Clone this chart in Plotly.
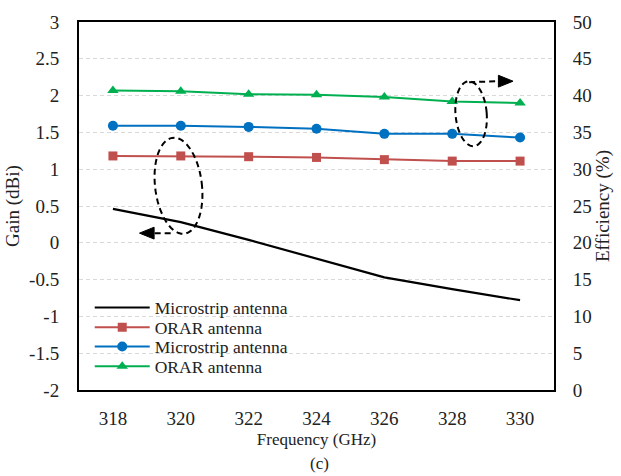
import numpy as np
import plotly.graph_objects as go

# Frequency sweep (GHz)
freq = [318, 320, 322, 324, 326, 328, 330]

# Gain (dBi)
gain_microstrip = [0.46, 0.28, 0.04, -0.22, -0.47, -0.63, -0.78]
gain_orar = [1.18, 1.18, 1.17, 1.16, 1.13, 1.11, 1.11]

# Radiation efficiency (%)
eff_microstrip = [35.9, 35.9, 35.75, 35.5, 34.8, 34.8, 34.3]
eff_orar = [40.7, 40.6, 40.2, 40.1, 39.8, 39.2, 39.0]

# Axis ticks
x_ticks = [318, 320, 322, 324, 326, 328, 330]
gain_ticks = [-2, -1.5, -1, -0.5, 0, 0.5, 1, 1.5, 2, 2.5, 3]
gain_tick_text = ["-2", "-1.5", "-1", "-0.5", "0", "0.5", "1", "1.5", "2", "2.5", "3"]
eff_ticks = [0, 5, 10, 15, 20, 25, 30, 35, 40, 45, 50]

FONT = "Liberation Serif"
TXT = "#222222"
RED = "#C0504D"
BLUE = "#0070C0"
GREEN = "#00B050"

W, H = 621, 476
ML, MR, MT, MB = 74, 60, 17, 86
PW, PH = W - ML - MR, H - MT - MB


def to_paper(px, py):
    return (px - ML) / PW, (H - MB - py) / PH


def ellipse_path(cx, cy, a, b, tilt_deg, n=60):
    t = np.linspace(0, 2 * np.pi, n)
    th = np.radians(tilt_deg)
    pts = []
    for x, y in zip(a * np.cos(t), b * np.sin(t)):
        rx = cx + x * np.cos(th) - y * np.sin(th)
        ry = cy + x * np.sin(th) + y * np.cos(th)
        pts.append(to_paper(rx, ry))
    return "M " + " L ".join(f"{p[0]:.5f},{p[1]:.5f}" for p in pts) + " Z"


def poly_path(points):
    pts = [to_paper(x, y) for x, y in points]
    return "M " + " L ".join(f"{p[0]:.5f},{p[1]:.5f}" for p in pts) + " Z"


def font(size):
    return dict(family=FONT, size=size, color=TXT)


fig = go.Figure()

fig.add_trace(go.Scatter(
    x=freq, y=gain_microstrip, name="Microstrip antenna", mode="lines", legend="legend",
    line=dict(color="black", width=2.2)))
fig.add_trace(go.Scatter(
    x=freq, y=gain_orar, name="ORAR antenna", mode="lines+markers", legend="legend2",
    line=dict(color=RED, width=2), marker=dict(symbol="square", size=9, color=RED)))
fig.add_trace(go.Scatter(
    x=freq, y=eff_microstrip, name="Microstrip antenna", mode="lines+markers", yaxis="y2",
    legend="legend3",
    line=dict(color=BLUE, width=2), marker=dict(symbol="circle", size=10, color=BLUE)))
fig.add_trace(go.Scatter(
    x=freq, y=eff_orar, name="ORAR antenna", mode="lines+markers", yaxis="y2",
    legend="legend4",
    line=dict(color=GREEN, width=2), marker=dict(symbol="triangle-up", size=10, color=GREEN)))

shapes = []
# White panel behind the legend entries (hides the grid there)
bx0, by0 = to_paper(83, 380)
bx1, by1 = to_paper(334, 288)
shapes.append(dict(type="rect", xref="paper", yref="paper", layer="between",
                   x0=bx0, y0=by0, x1=bx1, y1=by1, fillcolor="white", line=dict(width=0)))

dash_line = dict(color="black", width=2, dash="6px,4px")
# Left ellipse with arrow pointing to the gain axis
shapes.append(dict(type="path", xref="paper", yref="paper",
                   path=ellipse_path(176, 183, 24, 49, -7), line=dash_line))
lx0, ly0 = to_paper(168, 231)
lx1, ly1 = to_paper(150, 231)
shapes.append(dict(type="line", xref="paper", yref="paper",
                   x0=lx0, y0=ly0, x1=lx1, y1=ly1, line=dash_line))
shapes.append(dict(type="path", xref="paper", yref="paper",
                   path=poly_path([(136, 231), (151, 225), (151, 237)]),
                   fillcolor="black", line=dict(color="black", width=1)))
# Right ellipse with arrow pointing to the efficiency axis
shapes.append(dict(type="path", xref="paper", yref="paper",
                   path=ellipse_path(476, 110, 16, 33, -5), line=dash_line))
rx0, ry0 = to_paper(474, 78)
rx1, ry1 = to_paper(505, 77)
shapes.append(dict(type="line", xref="paper", yref="paper",
                   x0=rx0, y0=ry0, x1=rx1, y1=ry1, line=dash_line))
shapes.append(dict(type="path", xref="paper", yref="paper",
                   path=poly_path([(519, 77), (504, 71), (504, 83)]),
                   fillcolor="black", line=dict(color="black", width=1)))


def legend_at(row_y):
    lx, ly = to_paper(85, row_y)
    return dict(x=lx, y=ly, xanchor="left", yanchor="middle",
                bgcolor="rgba(0,0,0,0)", font=font(17.5), itemwidth=55)


fig.update_layout(
    width=W, height=H,
    margin=dict(l=ML, r=MR, t=MT, b=MB),
    paper_bgcolor="white", plot_bgcolor="white",
    font=font(17),
    showlegend=True,
    legend=legend_at(306.5),
    legend2=legend_at(326.5),
    legend3=legend_at(346),
    legend4=legend_at(366),
    xaxis=dict(range=[317, 331], tickvals=x_ticks, showgrid=False, zeroline=False,
               showline=True, linecolor="black", linewidth=2, mirror=True,
               ticks="outside", ticklen=10, tickcolor="rgba(0,0,0,0)",
               tickfont=font(19),
               title=dict(text="Frequency (GHz)", font=font(17), standoff=5)),
    yaxis=dict(range=[-2, 3], tickvals=gain_ticks, ticktext=gain_tick_text,
               showgrid=True, gridcolor="#d9d9d9", gridwidth=1, griddash="4px,3px",
               zeroline=False, showline=True, linecolor="black", linewidth=2, mirror=True,
               ticks="outside", ticklen=14, tickcolor="rgba(0,0,0,0)",
               tickfont=font(19),
               title=dict(text="Gain (dBi)", font=font(19), standoff=4)),
    yaxis2=dict(range=[0, 50], tickvals=eff_ticks, overlaying="y", side="right",
                showgrid=False, zeroline=False, showline=False,
                ticks="outside", ticklen=14, tickcolor="rgba(0,0,0,0)",
                tickfont=font(19),
                title=dict(text="Efficiency (%)", font=font(19), standoff=4)),
    shapes=shapes,
    annotations=[dict(text="(c)", xref="paper", yref="paper", x=(321 - ML) / PW,
                      y=(H - MB - 465) / PH, yanchor="middle", showarrow=False,
                      font=font(17))],
)

fig.write_html("out.html")
